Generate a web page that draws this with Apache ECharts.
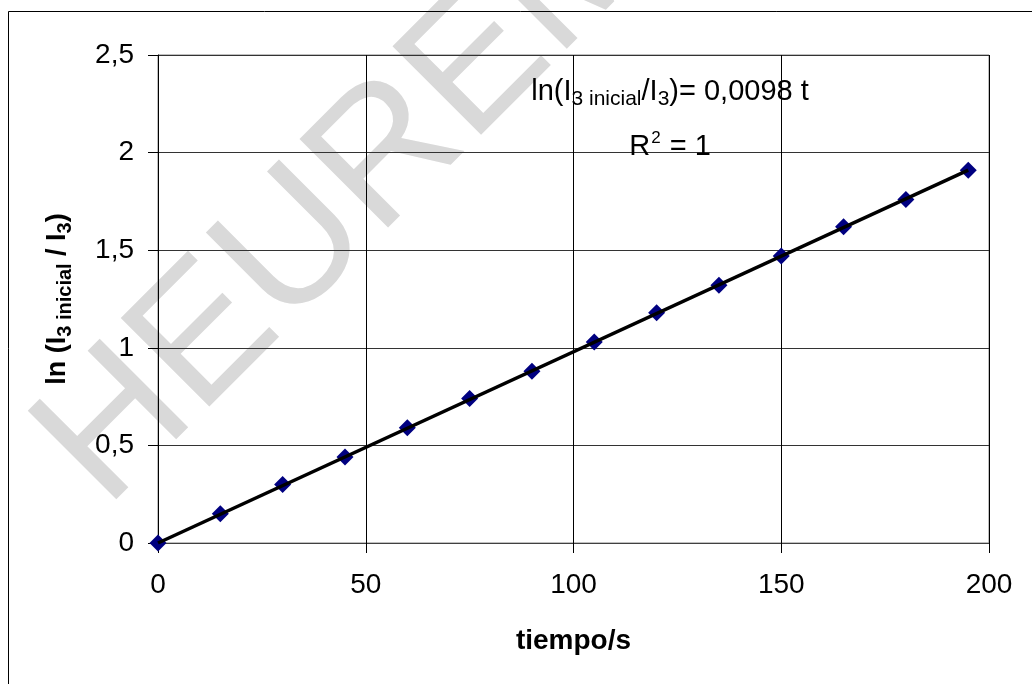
<!DOCTYPE html>
<html>
<head>
<meta charset="utf-8">
<script src="https://cdn.jsdelivr.net/npm/echarts@6/dist/echarts.min.js"></script>
<style>
html,body{margin:0;padding:0;background:#fff;}
#chart{width:1032px;height:684px;}
</style>
</head>
<body>
<div id="chart"></div>
<script>
// Data
const tiempo = [0, 15, 30, 45, 60, 75, 90, 105, 120, 135, 150, 165, 180, 195];
const lnRatio = [0, 0.15, 0.30, 0.44, 0.59, 0.74, 0.88, 1.03, 1.18, 1.32, 1.47, 1.62, 1.76, 1.91];
const trendT = [0, 195];
const trendLn = [0, 1.91];
const xTitle = 'tiempo/s';
const equationText = ['ln(I', '3 inicial', '/I', '3', ')= 0,0098 t'];
const r2Text = ['R', '2', ' = 1'];
const watermark = 'HEUREMA';

const FONT = 'Liberation Sans, Arial, sans-serif';
const chart = echarts.init(document.getElementById('chart'));

const points = tiempo.map((t, i) => [t, lnRatio[i]]);
const trend = trendT.map((t, i) => [t, trendLn[i]]);

const option = {
  backgroundColor: '#ffffff',
  animation: false,
  grid: {
    left: 158, top: 55, right: 43, bottom: 141,
    show: true, borderColor: '#808080', borderWidth: 1, backgroundColor: 'transparent'
  },
  xAxis: {
    type: 'value', min: 0, max: 200, interval: 50,
    name: xTitle, nameLocation: 'middle', nameGap: 84,
    nameTextStyle: { fontFamily: FONT, fontSize: 28, fontWeight: 'bold', color: '#000' },
    axisLine: { show: true, onZero: false, lineStyle: { color: '#404040', width: 1 } },
    axisTick: { show: true, length: 10, inside: false, lineStyle: { color: '#000' } },
    axisLabel: { fontFamily: FONT, fontSize: 28, color: '#000', margin: 28 },
    splitLine: { show: true, lineStyle: { color: '#000', width: 1 } }
  },
  yAxis: {
    type: 'value', min: 0, max: 2.5, interval: 0.5,
    name: '{m|ln (I}{s|3 inicial}{m| / I}{s|3}{m|)}', nameLocation: 'middle', nameGap: 83,
    nameTextStyle: {
      fontFamily: FONT, fontWeight: 'bold', color: '#000',
      rich: {
        m: { fontFamily: FONT, fontSize: 27, fontWeight: 'bold', color: '#000', lineHeight: 34, verticalAlign: 'middle' },
        s: { fontFamily: FONT, fontSize: 20, fontWeight: 'bold', color: '#000', lineHeight: 20, verticalAlign: 'bottom' }
      }
    },
    axisLine: { show: true, onZero: false, lineStyle: { color: '#000', width: 1 } },
    axisTick: { show: true, length: 10, inside: false, lineStyle: { color: '#000' } },
    axisLabel: {
      fontFamily: FONT, fontSize: 28, color: '#000', margin: 24,
      formatter: v => String(v).replace('.', ',')
    },
    splitLine: { show: true, lineStyle: { color: '#333', width: 1 } }
  },
  graphic: [
    {
      type: 'text', z: -10, x: 6, y: 410, rotation: Math.PI / 4, silent: true,
      style: { text: watermark, fontFamily: FONT, fontSize: 182, fill: '#d9d9d9', textVerticalAlign: 'top', textAlign: 'left' }
    },
    {
      type: 'rect', z: 100, silent: true,
      shape: { x: 8.5, y: 11.5, width: 1100, height: 1000 },
      style: { fill: 'none', stroke: '#000', lineWidth: 1 }
    },
    {
      type: 'text', z: 100, x: 670, y: 92, silent: true,
      style: {
        text: '{m|' + equationText[0] + '}{s|' + equationText[1] + '}{m|' + equationText[2] + '}{s|' + equationText[3] + '}{m|' + equationText[4] + '}',
        textAlign: 'center', textVerticalAlign: 'middle',
        rich: {
          m: { fontFamily: FONT, fontSize: 29, fill: '#000', lineHeight: 36, verticalAlign: 'middle' },
          s: { fontFamily: FONT, fontSize: 21, fill: '#000', lineHeight: 21, verticalAlign: 'bottom' }
        }
      }
    },
    {
      type: 'text', z: 100, x: 670, y: 147, silent: true,
      style: {
        text: '{m|' + r2Text[0] + '}{p|' + r2Text[1] + '}{m|' + r2Text[2] + '}',
        textAlign: 'center', textVerticalAlign: 'middle',
        rich: {
          m: { fontFamily: FONT, fontSize: 29, fill: '#000', lineHeight: 36, verticalAlign: 'middle' },
          p: { fontFamily: FONT, fontSize: 17, fill: '#000', lineHeight: 17, verticalAlign: 'top', padding: [1, 1, 0, 1] }
        }
      }
    }
  ],
  series: [
    {
      type: 'scatter', data: points, symbol: 'diamond', symbolSize: 17,
      itemStyle: { color: '#000080', opacity: 1 }, z: 3
    },
    {
      type: 'line', data: trend, showSymbol: false, symbol: 'none',
      lineStyle: { color: '#000', width: 3.5 }, z: 4
    }
  ]
};
chart.setOption(option);
</script>
</body>
</html>
